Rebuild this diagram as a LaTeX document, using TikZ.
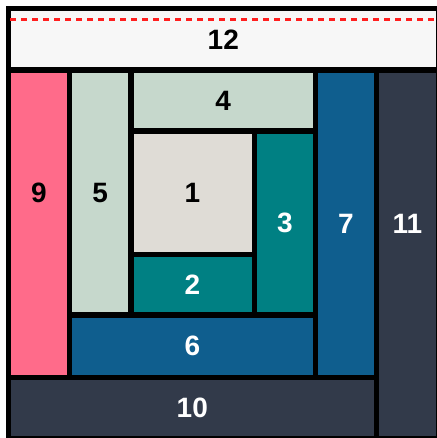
\documentclass[tikz,border=0pt]{standalone}
\usepackage{fontspec}
\setmainfont{Liberation Sans}
\usepackage{tikz}
\usetikzlibrary{positioning}

\definecolor{blockwhite}{HTML}{F7F7F7}
\definecolor{blockpink}{HTML}{FF6B8A}
\definecolor{blocksage}{HTML}{C6D8CC}
\definecolor{blocksand}{HTML}{DFDCD6}
\definecolor{blockteal}{HTML}{008083}
\definecolor{blockblue}{HTML}{0F5E8E}
\definecolor{blockslate}{HTML}{323A4A}
\definecolor{cutred}{HTML}{FF1E1E}

\begin{document}
\begin{tikzpicture}[
    x=1pt, y=-1pt,
    block/.style={rectangle, draw=black, line width=5.4pt, inner sep=0pt, outer sep=0pt, font=\bfseries\fontsize{28}{28}\selectfont},
    lightblock/.style={block, text=black},
    darkblock/.style={block, text=white},
    cutline/.style={draw=cutred, line width=2.4pt, dash pattern=on 6pt off 5pt}
]
\useasboundingbox (0,0) rectangle (436,438);

% Frame
\fill[black] (5.8,5.8) rectangle (445,445);

% Centre
\node[lightblock, fill=blocksand, minimum width=123.4pt, minimum height=123pt, anchor=north west] (p1) at (130.8,131.2) {1};
\node[darkblock, fill=blockteal, minimum width=123.4pt, minimum height=60.8pt, below=0pt of p1] (p2) {2};
\node[darkblock, fill=blockteal, minimum width=61.3pt, minimum height=183.8pt, anchor=north west] (p3) at (p1.north east) {3};
\node[lightblock, fill=blocksage, minimum width=184.7pt, minimum height=61pt, anchor=south west] (p4) at (p1.north west) {4};

% Second round
\node[lightblock, fill=blocksage, minimum width=61.3pt, minimum height=244.8pt, anchor=north east] (p5) at (p4.north west) {5};
\node[darkblock, fill=blockblue, minimum width=246pt, minimum height=62.2pt, anchor=north west] (p6) at (p5.south west) {6};
\node[darkblock, fill=blockblue, minimum width=60.8pt, minimum height=307pt, anchor=north west] (p7) at (p4.north east) {7};

% Outer round
\node[lightblock, fill=blockpink, minimum width=61.2pt, minimum height=368.9pt, anchor=south east] (p9) at (p6.south west) {9};
\node[darkblock, fill=blockslate, minimum width=368pt, minimum height=61.6pt, anchor=north west] (p10) at (p9.south west) {10};
\node[darkblock, fill=blockslate, minimum width=62pt, minimum height=430.5pt, anchor=south west] (p11) at (p10.south east) {11};
\node[lightblock, fill=blockwhite, minimum width=430pt, minimum height=61.9pt, anchor=north west] (p12) at (p9.north west) {12};

% Cut line
\draw[cutline] ([shift={(1.7pt,-11.2pt)}]p12.north west) -- ([shift={(4pt,-11.2pt)}]p12.north east);

\end{tikzpicture}
\end{document}
